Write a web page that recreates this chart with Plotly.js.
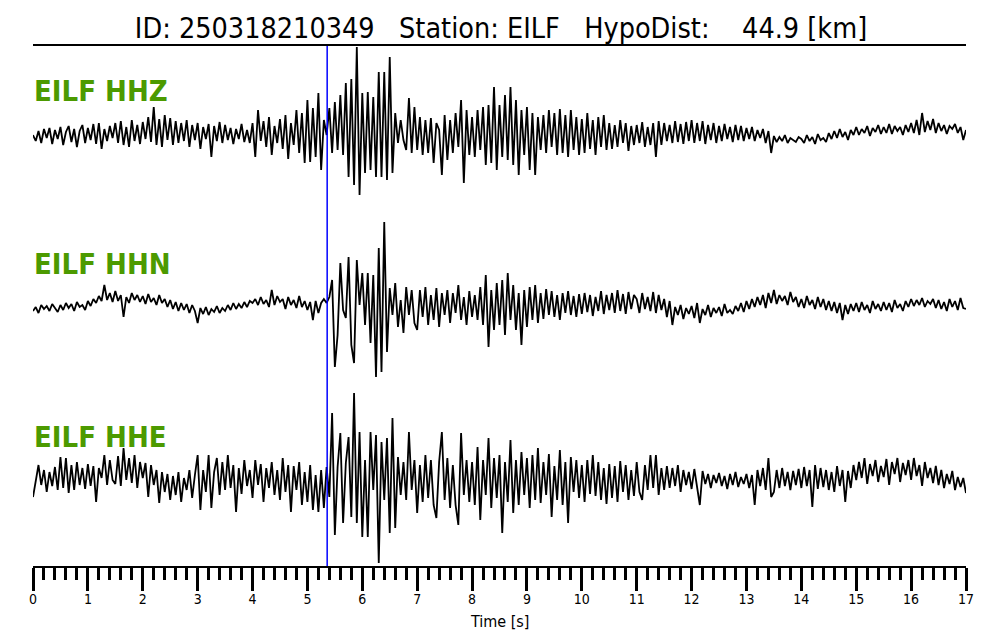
<!DOCTYPE html>
<html>
<head>
<meta charset="utf-8">
<script src="https://cdn.plot.ly/plotly-3.0.1.min.js"></script>
<style>html,body{margin:0;padding:0;background:#fff;}#plot{width:1000px;height:640px;}</style>
</head>
<body>
<div id="plot"></div>
<script>
// ---- data (amplitudes, sample step 0.05 s) ----
const sampleStep = 0.05;
const channelNames = ['EILF HHZ', 'EILF HHN', 'EILF HHE'];
const titleText = 'ID: 250318210349   Station: EILF   HypoDist:    44.9 [km]';
const xTitleText = 'Time [s]';
const pickTime = 5.36;
const tickValues = [0,1,2,3,4,5,6,7,8,9,10,11,12,13,14,15,16,17];

const hhz = [
  0,-6,4,-8,6,-3,7,-9,5,-4,
  8,-10,3,9,-7,6,-12,4,10,-8,
  7,-5,11,-9,12,-14,6,-6,9,-3,
  12,-8,14,-10,8,-12,15,-6,10,-9,
  13,-4,18,-7,28,-10,16,-12,20,-5,
  17,-10,14,-8,12,-6,15,-12,10,-5,
  12,-14,8,-4,11,-22,9,-6,13,-8,
  10,-5,7,-9,6,-4,11,-7,5,-8,
  12,-22,25,-6,14,-12,18,-20,9,-8,
  16,-14,20,-24,12,-10,25,-18,22,-28,
  35,-27,27,-22,42,-35,15,0,27,-18,
  33,-15,40,-20,52,-42,56,-50,88,-60,
  42,-38,43,-35,38,-42,63,-42,63,-45,
  78,-38,22,-8,15,-5,-15,37,-18,28,
  -15,18,-20,15,-18,17,-28,12,5,-40,
  20,-25,15,-18,22,-12,35,-48,25,-20,
  18,-22,25,-15,28,-30,30,-28,48,-35,
  30,-22,40,-25,48,-30,35,-40,25,-20,
  28,-35,22,-40,18,-15,20,-18,25,-12,
  22,-20,26,-18,20,-22,25,-15,18,-20,
  16,-18,22,-14,15,-20,18,-12,20,-15,
  12,-14,10,-12,15,-8,12,-16,9,-10,
  10,-8,13,-12,8,-10,12,-22,14,-10,
  12,-6,10,-8,14,-7,11,-9,13,-6,
  15,-8,12,-6,14,-9,10,-5,12,-8,
  9,-6,11,-4,8,-7,10,-5,9,-6,
  7,-4,8,-6,5,-3,6,-8,4,-18,
  -1,-7,-2,-6,0,-8,-3,-5,-7,-2,
  -4,-8,0,-6,-2,-9,1,-5,-3,-7,
  2,-4,4,-3,6,-2,3,-5,5,0,
  8,0,6,2,9,-1,7,3,10,1,
  8,2,11,1,9,4,8,0,10,3,
  12,2,15,0,22,3,14,5,16,2,
  12,4,10,1,9,6,11,2,8,-5,
  5
];

const hhn = [
  -6,-2,-8,0,-4,-1,-6,1,-3,-7,
  0,-5,2,-3,1,-6,3,-2,0,-5,
  4,-1,6,2,9,4,20,5,12,3,
  14,4,10,-12,8,2,12,5,10,3,
  9,1,11,3,7,0,10,2,6,-2,
  5,-4,3,-6,2,-5,1,-8,0,-6,
  -18,-3,-9,-2,-10,-4,-7,-1,-8,-3,
  -6,0,-5,2,-4,1,-3,3,-2,4,
  2,6,0,8,1,5,-2,15,0,9,
  3,6,-4,8,0,5,-3,9,-2,4,
  -5,3,-15,4,-8,2,6,2,8,25,
  -62,-30,42,-5,-13,48,-40,-58,45,0,
  32,-20,32,-38,30,-72,57,-67,83,-47,
  17,-10,22,-22,5,-28,18,-10,15,-18,
  -25,15,-12,18,-20,10,-15,17,-22,12,
  -10,15,-18,12,-8,20,-15,8,-20,14,
  -12,10,-15,18,-20,30,-42,15,-25,22,
  -20,25,-30,32,-15,20,-25,12,-40,15,
  -22,18,-15,20,-18,12,-14,16,-10,14,
  -12,10,-15,12,-8,14,-10,9,-12,11,
  -9,12,-7,10,-11,8,-6,14,-9,10,
  -5,12,-8,15,-6,11,-9,13,-4,10,
  6,-8,12,-4,8,-6,13,-8,10,-5,
  6,-12,4,-20,-2,-10,0,-14,-3,-9,
  -1,-13,2,-18,-4,-10,0,-12,-3,-8,
  -2,-11,1,-8,-5,-9,-1,-6,2,-7,
  4,-4,6,-2,8,0,10,-3,12,2,
  15,1,10,4,9,0,13,3,8,-2,
  6,-3,9,0,5,-4,8,-2,6,-5,
  4,-6,3,-8,2,-15,0,-9,1,-6,
  2,-7,3,-5,0,-8,4,-4,1,-6,
  3,-5,2,-7,5,-3,1,-6,4,-2,
  6,-1,5,0,7,-2,4,1,6,-3,
  5,-4,3,-6,6,-2,4,-5,7,-3,
  -4
];

const hhe = [
  -17,0,15,-5,10,-12,8,-6,13,-10,
  23,-8,22,-13,15,-10,18,-5,12,-9,
  16,-6,14,-22,12,2,25,-5,20,0,
  -4,24,-6,32,0,22,-3,25,-8,18,
  2,17,-17,15,-5,10,-23,8,-12,6,
  -20,4,-15,8,-22,2,-10,10,-18,5,
  25,-30,10,-12,25,-28,8,22,-15,18,
  -10,25,-8,15,-32,12,-14,20,-6,10,
  -18,20,-5,16,-22,12,-8,18,-15,10,
  -20,22,-12,15,-32,14,-10,18,-25,8,
  -22,15,-30,5,-32,10,-28,13,-17,67,
  -55,13,47,-43,17,43,-37,87,-43,48,
  -57,20,-57,48,-10,45,-83,38,-20,42,
  -53,62,-48,23,-15,18,-20,48,-10,20,
  -33,15,-22,25,-18,20,-25,-38,18,48,
  -20,22,-28,15,-25,-45,47,-15,20,-22,
  18,-25,33,-40,20,-15,42,-28,22,-18,
  25,-53,18,-22,40,-33,20,-25,28,-15,
  22,-28,25,-20,32,-23,18,-15,26,-37,
  14,-20,30,-25,18,-43,23,-12,20,-18,
  15,-22,20,-14,25,-16,18,-20,12,-24,
  16,-18,14,-22,19,-12,15,-20,10,-16,
  18,-12,-20,15,-10,25,-8,25,-15,12,
  -10,14,-8,12,-6,15,-12,10,-5,8,
  -9,11,-6,-25,9,-4,6,-8,5,-3,
  7,-6,4,-9,6,-5,8,-7,3,-4,
  6,-8,5,-25,10,-6,12,-10,22,-17,
  -12,10,-8,12,-6,8,-10,9,-5,11,
  -8,13,-6,10,-27,15,-9,12,-7,10,
  -10,8,-12,14,-6,10,-22,9,-8,15,
  0,18,2,22,-4,16,4,20,-2,14,
  3,21,-5,18,6,22,-2,17,5,20,
  0,22,4,15,-6,18,2,12,-3,14,
  -5,10,-8,6,-4,9,-10,3,-7,2,
  -13
];

// ---- layout constants ----
const channelData = [hhz, hhn, hhe];
const baselines = [431, 261, 86];
const labelLevels = [475, 302, 129];
const fontFam = '"DejaVu Sans Condensed", "DejaVu Sans", sans-serif';

const traces = channelData.map((vals, k) => ({
  x: vals.map((v, i) => i * sampleStep),
  y: vals.map(v => v + baselines[k]),
  type: 'scatter',
  mode: 'lines',
  line: {color: '#000000', width: 1.8},
  hoverinfo: 'skip',
  name: channelNames[k]
}));

const annotations = channelNames.map((name, k) => ({
  text: name,
  xref: 'paper', yref: 'y',
  x: 0, y: labelLevels[k],
  xanchor: 'left', yanchor: 'middle',
  xshift: -1,
  showarrow: false,
  font: {family: fontFam, size: 29, color: '#4c9a00', weight: 'bold'}
}));
annotations.push({
  text: xTitleText,
  xref: 'paper', yref: 'paper',
  x: 0.5, y: -55/520,
  xanchor: 'center', yanchor: 'middle',
  showarrow: false,
  font: {family: fontFam, size: 16, color: '#000000'}
});

const layout = {
  width: 1000, height: 640,
  margin: {l: 33, r: 34, t: 46, b: 74, pad: 0},
  paper_bgcolor: '#ffffff', plot_bgcolor: '#ffffff',
  showlegend: false,
  title: {
    text: titleText,
    font: {family: fontFam, size: 28.5, color: '#000000'},
    x: 0.501, xanchor: 'center', xref: 'container',
    y: 1 - 28/640, yanchor: 'middle', yref: 'container'
  },
  xaxis: {
    range: [0, 17],
    tickmode: 'array', tickvals: tickValues, ticktext: tickValues.map(String),
    ticks: 'outside', ticklen: 23, tickwidth: 3, tickcolor: '#000000',
    ticklabelstandoff: -4,
    showline: true, linecolor: '#000000', linewidth: 2, mirror: true,
    showgrid: false, zeroline: false,
    tickfont: {family: fontFam, size: 14, color: '#000000'},
    minor: {dtick: 0.2, tick0: 0, ticks: 'outside', ticklen: 12, tickwidth: 3, tickcolor: '#000000', showgrid: false},
    fixedrange: true
  },
  yaxis: {
    range: [0, 520],
    visible: false, showgrid: false, zeroline: false, fixedrange: true
  },
  shapes: [{
    type: 'line', xref: 'x', yref: 'paper',
    x0: pickTime, x1: pickTime, y0: 0, y1: 1,
    line: {color: '#0000ff', width: 1.5}
  }],
  annotations: annotations
};

Plotly.newPlot('plot', traces, layout, {staticPlot: true, displayModeBar: false});
</script>
</body>
</html>
